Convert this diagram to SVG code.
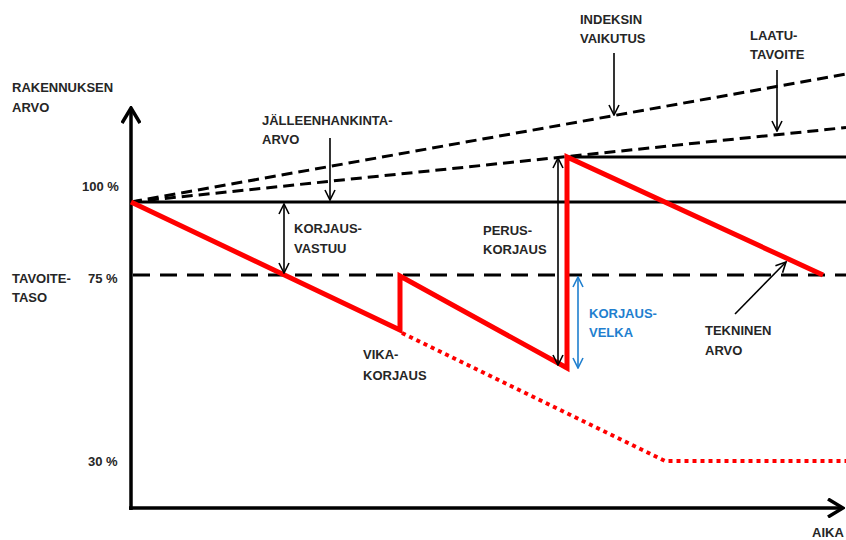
<svg xmlns="http://www.w3.org/2000/svg" width="846" height="540" viewBox="0 0 846 540">
  <style>
    text { font-family: "Liberation Sans", "DejaVu Sans", sans-serif; font-size: 13px; font-weight: bold; fill: #262626; }
    .blue { fill: #1f7fcf; }
    .axis { stroke: #000; stroke-width: 3.5; fill: none; }
    .solid { stroke: #000; stroke-width: 3; fill: none; }
    .dash { stroke: #000; stroke-width: 3; fill: none; stroke-dasharray: 11 6; }
    .dash75 { stroke: #000; stroke-width: 3; fill: none; stroke-dasharray: 17 10; }
    .red { stroke: #ff0000; stroke-width: 5; fill: none; stroke-linejoin: miter; }
    .reddot { stroke: #ff0000; stroke-width: 4; fill: none; stroke-dasharray: 4 4; }
    .thin { stroke: #000; stroke-width: 1.6; fill: none; }
    .thinblue { stroke: #1f7fcf; stroke-width: 1.6; fill: none; }
  </style>
  <defs>
    <marker id="ah" viewBox="0 0 12 12" refX="11" refY="6" markerWidth="12" markerHeight="12" markerUnits="userSpaceOnUse" orient="auto-start-reverse">
      <path d="M1,1 L11,6 L1,11" fill="none" stroke="#000" stroke-width="1.6"/>
    </marker>
    <marker id="ahb" viewBox="0 0 12 12" refX="11" refY="6" markerWidth="12" markerHeight="12" markerUnits="userSpaceOnUse" orient="auto-start-reverse">
      <path d="M1,1 L11,6 L1,11" fill="none" stroke="#1f7fcf" stroke-width="1.6"/>
    </marker>
    <marker id="axh" viewBox="0 0 20 20" refX="18" refY="10" markerWidth="20" markerHeight="20" markerUnits="userSpaceOnUse" orient="auto">
      <path d="M3,1 L18,10 L3,19" fill="none" stroke="#000" stroke-width="3.5"/>
    </marker>
  </defs>

  <!-- axes -->
  <g id="axes">
    <line class="axis" x1="131" y1="510" x2="131" y2="108" marker-end="url(#axh)"/>
    <line class="axis" x1="129" y1="508" x2="843" y2="508" marker-end="url(#axh)"/>
  </g>

  <!-- reference levels -->
  <g id="levels">
    <line class="solid" x1="131" y1="202" x2="846" y2="202"/>
    <line class="solid" x1="567" y1="157" x2="846" y2="157"/>
    <line class="dash75" x1="133" y1="275" x2="846" y2="275"/>
    <line class="dash" x1="131" y1="202" x2="846" y2="74"/>
    <line class="dash" x1="131" y1="202" x2="846" y2="127.5"/>
  </g>

  <!-- technical value curve -->
  <g id="technical-value">
    <polyline class="reddot" points="402,333 665,461 846,461"/>
    <polyline class="red" points="131,202 400,330 400,276 567,368 567,157 823,275"/>
  </g>

  <!-- connectors -->
  <g id="connectors">
    <line class="thin" x1="614" y1="53" x2="614" y2="115" marker-end="url(#ah)"/>
    <line class="thin" x1="777" y1="70" x2="777" y2="131" marker-end="url(#ah)"/>
    <line class="thin" x1="330" y1="138" x2="330" y2="200" marker-end="url(#ah)"/>
    <line class="thin" x1="284" y1="204" x2="284" y2="273" marker-start="url(#ah)" marker-end="url(#ah)"/>
    <line class="thin" x1="558" y1="158" x2="558" y2="365" marker-start="url(#ah)" marker-end="url(#ah)"/>
    <line class="thinblue" x1="578" y1="277" x2="578" y2="368" marker-start="url(#ahb)" marker-end="url(#ahb)"/>
    <line class="thin" x1="735" y1="314" x2="786" y2="262" marker-end="url(#ah)"/>
  </g>

  <!-- labels -->
  <g id="label-y-axis"><text x="12" y="92">RAKENNUKSEN</text><text x="12" y="112">ARVO</text></g>
  <g id="label-100"><text x="82" y="191">100 %</text></g>
  <g id="label-target"><text x="12" y="283">TAVOITE-</text><text x="12" y="302">TASO</text></g>
  <g id="label-75"><text x="88" y="283">75 %</text></g>
  <g id="label-30"><text x="88" y="466">30 %</text></g>
  <g id="label-time"><text x="812" y="537">AIKA</text></g>
  <g id="label-index"><text x="580" y="24">INDEKSIN</text><text x="580" y="43">VAIKUTUS</text></g>
  <g id="label-quality"><text x="750" y="40">LAATU-</text><text x="750" y="59">TAVOITE</text></g>
  <g id="label-replacement"><text x="262" y="125">JÄLLEENHANKINTA-</text><text x="262" y="144">ARVO</text></g>
  <g id="label-responsibility"><text x="294" y="233">KORJAUS-</text><text x="294" y="253">VASTUU</text></g>
  <g id="label-renovation"><text x="483" y="235">PERUS-</text><text x="483" y="254">KORJAUS</text></g>
  <g id="label-debt"><text class="blue" x="589" y="318">KORJAUS-</text><text class="blue" x="589" y="337">VELKA</text></g>
  <g id="label-repair"><text x="363" y="359">VIKA-</text><text x="363" y="380">KORJAUS</text></g>
  <g id="label-technical"><text x="705" y="335">TEKNINEN</text><text x="705" y="355">ARVO</text></g>
</svg>
